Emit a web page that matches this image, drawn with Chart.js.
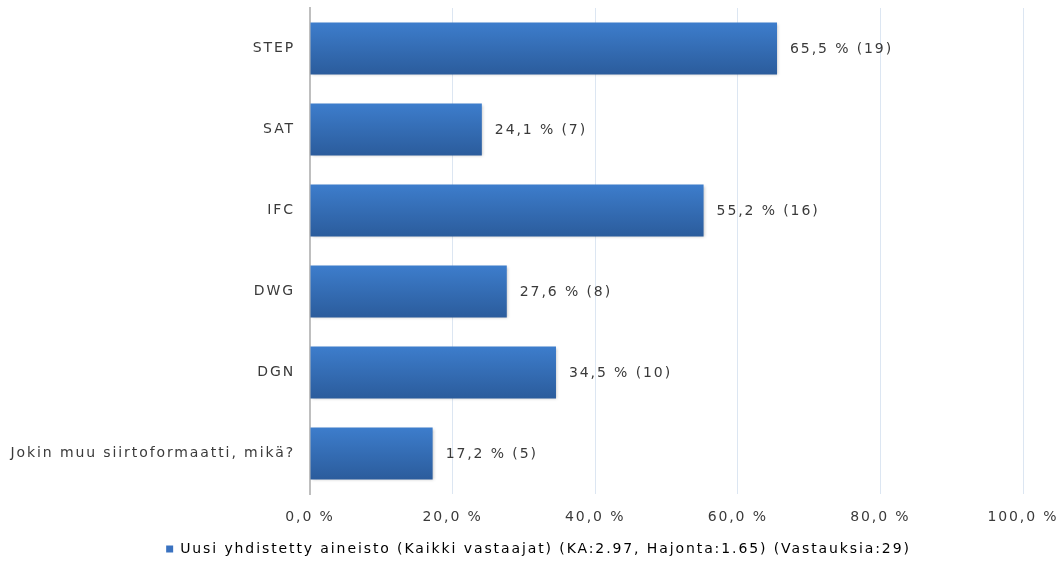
<!DOCTYPE html>
<html>
<head>
<meta charset="utf-8">
<script src="https://cdn.jsdelivr.net/npm/chart.js@4/dist/chart.umd.min.js"></script>
<style>
html,body{margin:0;padding:0;background:#fff;}
#wrap{width:1059px;height:561px;position:relative;}
</style>
</head>
<body>
<div id="wrap"><canvas id="c"></canvas></div>
<script>
const categories = ["STEP", "SAT", "IFC", "DWG", "DGN", "Jokin muu siirtoformaatti, mikä?"];
const percentages = [65.5, 24.1, 55.2, 27.6, 34.5, 17.2];
const counts = [19, 7, 16, 8, 10, 5];
const xTicks = [0, 20, 40, 60, 80, 100];
const seriesName = "Uusi yhdistetty aineisto (Kaikki vastaajat) (KA:2.97, Hajonta:1.65) (Vastauksia:29)";

const fmt = v => v.toFixed(1).replace('.', ',') + ' %';
const SPACING = '1.9px';
const FONT = { family: '"DejaVu Sans"', size: 14 };
const TEXT = '#3a3a3a';

const spacingPlugin = {
  id: 'spacing',
  beforeLayout(chart){ chart.ctx.letterSpacing = SPACING; },
  beforeDraw(chart){ chart.ctx.letterSpacing = SPACING; }
};

const legendShift = {
  id: 'legendShift',
  afterLayout(chart){
    const lg = chart.legend;
    if (lg) { lg.left += 27; lg.right += 27; }
  }
};

const valueLabels = {
  id: 'valueLabels',
  afterDatasetsDraw(chart){
    const ctx = chart.ctx;
    const meta = chart.getDatasetMeta(0);
    ctx.save();
    ctx.letterSpacing = SPACING;
    ctx.font = '14px "DejaVu Sans"';
    ctx.fillStyle = TEXT;
    ctx.textAlign = 'left';
    ctx.textBaseline = 'middle';
    meta.data.forEach((bar, i) => {
      ctx.fillText(fmt(percentages[i]) + ' (' + counts[i] + ')', bar.x + 13, bar.y + 1);
    });
    ctx.restore();
  }
};

const shadowPlugin = {
  id: 'barShadow',
  beforeDatasetsDraw(chart){
    const ctx = chart.ctx;
    ctx.save();
    ctx.shadowColor = 'rgba(0,0,0,0.25)';
    ctx.shadowBlur = 3;
    ctx.shadowOffsetX = 1;
    ctx.shadowOffsetY = 1;
  },
  afterDatasetsDraw(chart){
    chart.ctx.restore();
  }
};

function barGradient(context){
  const chart = context.chart;
  if (!chart.chartArea) return '#3a72c0';
  const yScale = chart.scales.y;
  const i = context.dataIndex;
  const yc = yScale.getPixelForValue(i);
  const half = 26;
  const g = chart.ctx.createLinearGradient(0, yc - half, 0, yc + half);
  g.addColorStop(0, '#3d7dcc');
  g.addColorStop(1, '#2b5c9c');
  return g;
}

new Chart(document.getElementById('c'), {
  type: 'bar',
  data: {
    labels: categories,
    datasets: [{
      label: seriesName,
      data: percentages,
      backgroundColor: barGradient,
      borderWidth: 0,
      categoryPercentage: 1.0,
      barPercentage: 0.64
    }]
  },
  options: {
    indexAxis: 'y',
    responsive: true,
    maintainAspectRatio: false,
    animation: false,
    layout: { padding: { top: 8, right: 36, left: 0, bottom: -5 } },
    plugins: {
      tooltip: { enabled: false },
      legend: {
        position: 'bottom',
        labels: {
          font: FONT,
          color: TEXT,
          boxWidth: 7,
          boxHeight: 7,
          padding: 0,
          generateLabels(chart){
            return [{ text: seriesName, fillStyle: '#3a72c0', strokeStyle: '#3a72c0', lineWidth: 0, datasetIndex: 0 }];
          }
        }
      }
    },
    scales: {
      x: {
        min: 0, max: 100,
        afterBuildTicks(scale){ scale.ticks = xTicks.map(v => ({ value: v })); },
        afterFit(scale){ scale.height = 48; scale.paddingLeft = 0; scale.paddingRight = 0; },
        ticks: {
          callback: v => fmt(v),
          font: FONT,
          color: TEXT,
          padding: 15,
          maxRotation: 0
        },
        grid: {
          color: ctx => ctx.tick && ctx.tick.value === 0 ? 'rgba(0,0,0,0)' : '#dce6f2',
          lineWidth: 1,
          drawTicks: false
        },
        border: { display: false }
      },
      y: {
        afterFit(scale){ scale.width = 310; scale.paddingTop = 0; scale.paddingBottom = 0; },
        ticks: {
          font: FONT,
          color: TEXT,
          padding: 15
        },
        grid: { display: false, drawTicks: false },
        border: { display: true, color: '#bfbfbf', width: 2 }
      }
    }
  },
  plugins: [spacingPlugin, legendShift, shadowPlugin, valueLabels]
});
</script>
</body>
</html>
